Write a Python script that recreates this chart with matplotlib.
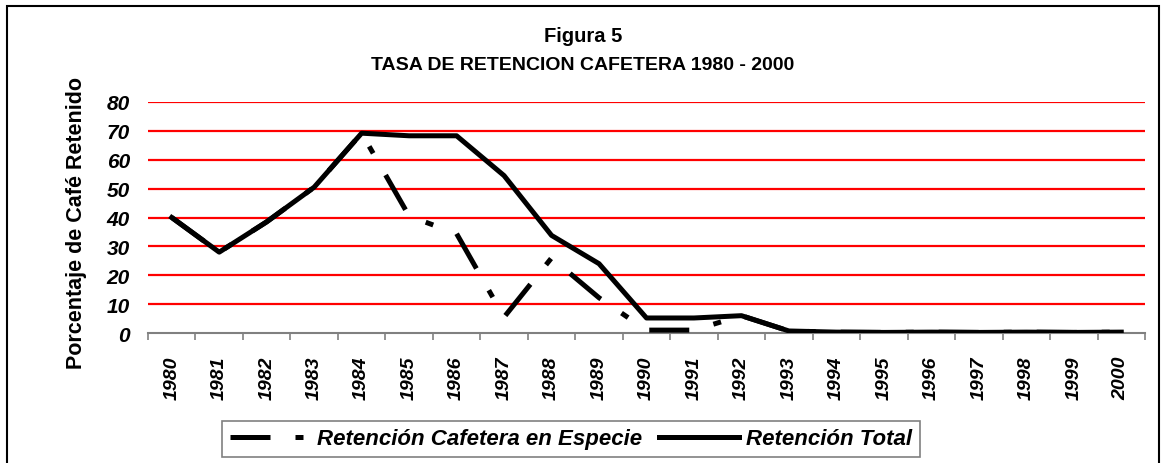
import matplotlib.pyplot as plt
from matplotlib.patches import Rectangle

# Datos
anios = [str(a) for a in range(1980, 2001)]
ret_total = [40, 28, 38.5, 50.5, 69.2, 68.3, 68.3, 54.5, 33.8, 24, 5.2, 5.2, 6,
             0.7, 0.3, 0.2, 0.3, 0.2, 0.3, 0.2, 0.3]
ret_especie = [40, 28, 38.5, 50.5, 69.2, 40.5, 34.4, 5.5, 26, 12.2, 1, 1, 6,
               0.7, 0.3, 0.2, 0.3, 0.2, 0.3, 0.2, 0.3]
yticks = [0, 10, 20, 30, 40, 50, 60, 70, 80]

plt.rcParams['font.family'] = ['Liberation Sans', 'DejaVu Sans']

fig = plt.figure(figsize=(11.66, 4.64), dpi=100)
W, H = 1166, 464
ax = fig.add_axes([148 / W, 1 - 334 / H, (1145 - 148) / W, (334 - 103) / H])

x = list(range(len(anios)))
l1, = ax.plot(x, ret_especie, color='black', lw=3.6,
              linestyle=(0, (8, 5, 1.6, 5)), solid_joinstyle='miter',
              label='Retención Cafetera en Especie', zorder=3)
l2, = ax.plot(x, ret_total, color='black', lw=3.6, label='Retención Total',
              zorder=4)

ax.set_xlim(-0.5, len(anios) - 0.5)
ax.set_ylim(0, 80)
ax.set_yticks(yticks)
ax.set_yticklabels([str(v) for v in yticks], fontsize=15, fontweight='bold',
                   fontstyle='italic')
ax.tick_params(axis='y', length=0, pad=13)

for v in yticks[1:]:
    ax.axhline(v, color='#ff0000', lw=1.6, zorder=1)

# ticks en los limites de categoria, etiquetas en el centro
ax.set_xticks([i - 0.5 for i in range(len(anios) + 1)])
ax.set_xticklabels([])
ax.tick_params(axis='x', which='major', direction='out', length=5,
               color='#808080', width=1.2)
ax.set_xticks(x, minor=True)
ax.set_xticklabels(anios, minor=True, rotation=90, fontsize=14,
                   fontweight='bold', fontstyle='italic')
ax.tick_params(axis='x', which='minor', length=0, pad=16)

for s in ['left', 'right', 'top']:
    ax.spines[s].set_visible(False)
ax.spines['bottom'].set_color('#808080')
ax.spines['bottom'].set_linewidth(1.5)

fig.text(0.5, 1 - 36 / H, 'Figura 5', ha='center', va='center',
         fontsize=14.5, fontweight='bold')
fig.text(0.5, 1 - 66 / H, 'TASA DE RETENCION CAFETERA 1980 - 2000',
         ha='center', va='center', fontsize=14, fontweight='bold')
fig.text(77 / W, 1 - 223 / H, 'Porcentaje de Café Retenido', rotation=90,
         ha='center', va='center', fontsize=15.5, fontweight='bold')

leg = fig.legend(handles=[l1, l2], loc='center', ncol=2,
                 bbox_to_anchor=(571 / W, 1 - 440 / H), frameon=True,
                 fancybox=False, edgecolor='#606060', handlelength=3.6,
                 handletextpad=0.3, columnspacing=0.8, borderpad=0.35,
                 prop={'size': 16, 'weight': 'bold', 'style': 'italic'})
leg.get_frame().set_linewidth(1.2)

fig.patches.append(Rectangle((7 / W, -0.02), (1159 - 7) / W, 1 - 7 / H + 0.02,
                             transform=fig.transFigure, fill=False,
                             edgecolor='black', lw=1.5))

fig.savefig('out.png', dpi=100)
